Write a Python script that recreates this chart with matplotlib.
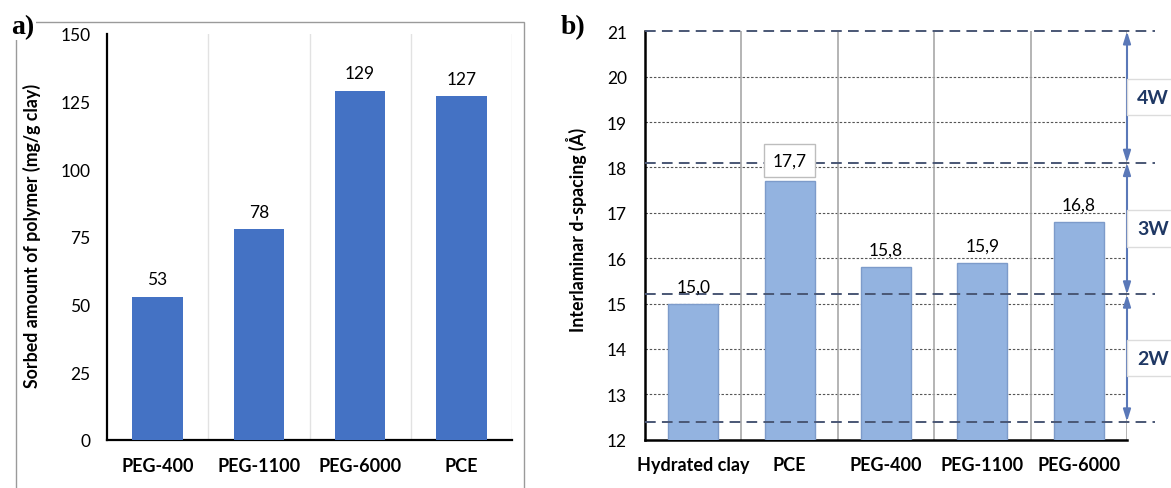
import matplotlib
matplotlib.use("Agg")
import matplotlib.pyplot as plt
from matplotlib.patches import Rectangle

# ---------------- data ----------------
a_categories = ["PEG-400", "PEG-1100", "PEG-6000", "PCE"]
a_values = [53, 78, 129, 127]
a_yticks = [0, 25, 50, 75, 100, 125, 150]

b_categories = ["Hydrated clay", "PCE", "PEG-400", "PEG-1100", "PEG-6000"]
b_values = [15.0, 17.7, 15.8, 15.9, 16.8]
b_yticks = [12, 13, 14, 15, 16, 17, 18, 19, 20, 21]
b_levels = [21.0, 18.1, 15.2, 12.4]
b_level_labels = ["4W", "3W", "2W"]

plt.rcParams['font.family'] = ['Lato', 'DejaVu Sans']

W, H = 1171, 489
fig = plt.figure(figsize=(W / 100, H / 100), dpi=100)
fig.patch.set_facecolor('white')

def ax_rect(l, r, t, b):
    return [l / W, (H - b) / H, (r - l) / W, (b - t) / H]

# panel a frame
fig.patches.append(Rectangle((16 / W, -0.05), 508 / W, (H - 22.7) / H + 0.05,
                             transform=fig.transFigure, fill=False,
                             ec='#9a9a9a', lw=1.0, zorder=0))

# ---------------- panel a ----------------
axa = fig.add_axes(ax_rect(107, 512, 35, 441))
xa = list(range(len(a_categories)))
axa.bar(xa, a_values, width=0.5, color='#4472C4', zorder=3)
axa.set_xlim(-0.5, len(a_categories) - 0.5)
axa.set_ylim(0, 150)
axa.set_yticks(a_yticks)
axa.set_xticks(xa)
axa.set_xticklabels(a_categories, fontweight='bold', fontsize=13)
axa.tick_params(axis='y', length=0, pad=12, labelsize=12.5)
axa.tick_params(axis='x', length=0, pad=12)
for i in range(len(a_categories)):
    axa.axvline(i + 0.5, color='#e2e2e2', lw=1.0, zorder=1)
for s in ['top', 'right']:
    axa.spines[s].set_visible(False)
for s in ['left', 'bottom']:
    axa.spines[s].set_linewidth(1.6)
    axa.spines[s].set_color('black')
for x, v in zip(xa, a_values):
    axa.annotate(str(v), (x, v), xytext=(0, 12.5), textcoords='offset points',
                 ha='center', va='center', fontsize=12.5, zorder=5)
axa.set_ylabel("Sorbed amount of polymer (mg/g clay)", fontweight='bold',
               fontsize=12.8)
axa.yaxis.set_label_coords((41 - 107) / 405, 0.505)

fig.text(11 / W, (H - 34) / H, "a)", family='Liberation Serif', fontweight='bold',
         fontsize=20, ha='left', va='baseline',
         bbox=dict(fc='white', ec='none', pad=1.0), zorder=5)

# ---------------- panel b ----------------
axb = fig.add_axes(ax_rect(645, 1127, 32.3, 440.7))
xb = list(range(len(b_categories)))
axb.bar(xb, b_values, width=0.52, color='#93B3E0', edgecolor='#7d9bca',
        lw=1.0, zorder=3)
axb.set_xlim(-0.5, len(b_categories) - 0.5)
axb.set_ylim(12, 21)
axb.set_yticks(b_yticks)
axb.set_xticks(xb)
axb.set_xticklabels(b_categories, fontweight='bold', fontsize=13)
axb.tick_params(axis='y', length=0, pad=13, labelsize=12.5)
axb.tick_params(axis='x', length=0, pad=12)
for yv in b_yticks[1:-1]:
    axb.axhline(yv, color='#555555', lw=0.8, ls=(0, (2.2, 1.6)), zorder=1)
for i in range(len(b_categories)):
    axb.axvline(i + 0.5, color='#a8a8a8', lw=1.2, zorder=1)
axb.spines['top'].set_visible(False)
axb.spines['right'].set_visible(False)
for s in ['left', 'bottom']:
    axb.spines[s].set_linewidth(1.8)
    axb.spines[s].set_color('black')

x_end = -0.5 + (1155 - 645) / 96.4
for lv in b_levels:
    axb.plot([-0.5, x_end], [lv, lv], color='#4a5775', lw=1.4,
             ls=(0, (5.5, 3.2)), zorder=4, clip_on=False)

x_arrow = len(b_categories) - 0.5
for hi, lo, lab in zip(b_levels[:-1], b_levels[1:], b_level_labels):
    axb.annotate('', xy=(x_arrow, lo), xytext=(x_arrow, hi),
                 arrowprops=dict(arrowstyle='<|-|>,head_length=0.7,head_width=0.22',
                                 color='#5a78b8', lw=1.5, shrinkA=0, shrinkB=0),
                 annotation_clip=False, zorder=6)
    axb.text(x_arrow + (1137 - 1127) / 96.4, (hi + lo) / 2, lab, ha='left', va='center',
             fontsize=14, fontweight='bold', color='#1F3864', clip_on=False,
             bbox=dict(boxstyle='square,pad=0.5', fc='white', ec='#dcdcdc', lw=1.0),
             zorder=7)

for x, v, c in zip(xb, b_values, b_categories):
    txt = f"{v:.1f}".replace('.', ',')
    if c == 'PCE':
        axb.annotate(txt, (x, v), xytext=(0, 15), textcoords='offset points',
                     ha='center', va='center', fontsize=12.5, zorder=8,
                     bbox=dict(boxstyle='square,pad=0.5', fc='white',
                               ec='#bdbdbd', lw=1.0))
    else:
        axb.annotate(txt, (x, v), xytext=(0, 12.5), textcoords='offset points',
                     ha='center', va='center', fontsize=12.5, zorder=8)

axb.set_ylabel("Interlaminar d-spacing (Å)", fontweight='bold', fontsize=12.8)
axb.yaxis.set_label_coords((587 - 645) / 482, 0.515)

fig.text(561 / W, (H - 34) / H, "b)", family='Liberation Serif', fontweight='bold',
         fontsize=20, ha='left', va='baseline')

fig.savefig("out.png", dpi=100, facecolor='white')
